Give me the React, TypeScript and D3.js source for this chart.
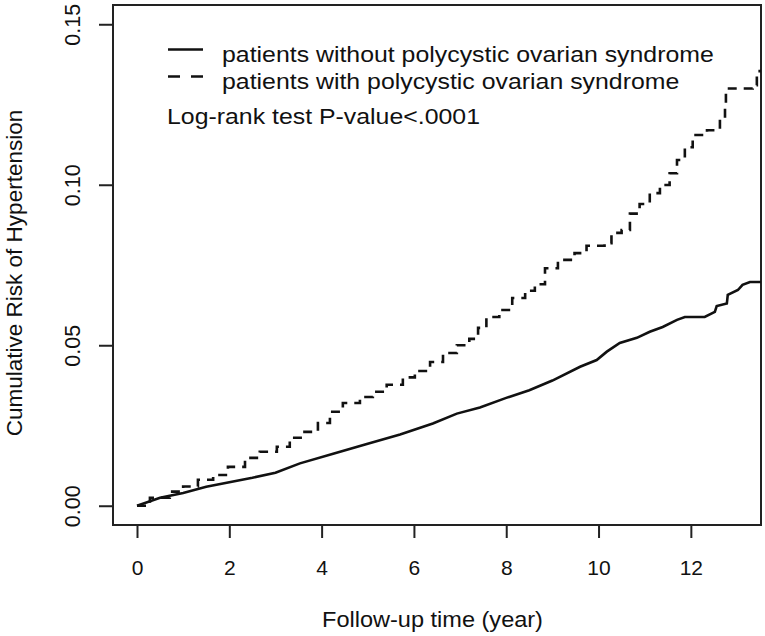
import { useEffect, useRef } from 'react'
import * as d3 from 'd3'

// cumulative risk
const withoutTimes = [0, 0.5, 1, 1.5, 2, 2.5, 3, 3.53, 4.25, 4.98, 5.7, 6.41, 6.93, 7.43, 8, 8.5, 9, 9.6, 9.96, 10.18, 10.46, 10.83, 11.11, 11.39, 11.7, 11.87, 12.3, 12.52, 12.56, 12.78, 12.8, 13.02, 13.12, 13.28, 13.52]
const withoutRisk = [0, 0.0025, 0.004, 0.0059, 0.0073, 0.0087, 0.0103, 0.0132, 0.0162, 0.0192, 0.0222, 0.0256, 0.0287, 0.0306, 0.0336, 0.036, 0.039, 0.0433, 0.0454, 0.048, 0.0507, 0.0523, 0.0542, 0.0557, 0.0579, 0.0588, 0.0588, 0.0604, 0.0622, 0.063, 0.0657, 0.0672, 0.0688, 0.0697, 0.0697]

const withTimes = [0, 0.28, 0.71, 1.0, 1.32, 1.65, 1.97, 2.34, 2.66, 3.03, 3.31, 3.6, 3.92, 4.18, 4.46, 4.83, 5.11, 5.41, 5.76, 6.02, 6.35, 6.63, 6.93, 7.2, 7.39, 7.57, 7.85, 8.13, 8.41, 8.62, 8.84, 9.12, 9.48, 9.74, 10.13, 10.28, 10.5, 10.68, 10.89, 11.11, 11.33, 11.54, 11.7, 11.87, 12.04, 12.35, 12.63, 12.74, 12.76, 13.34, 13.43, 13.52]
const withRisk = [0, 0.0025, 0.0044, 0.006, 0.0081, 0.0096, 0.0121, 0.0149, 0.0168, 0.0184, 0.0212, 0.023, 0.0258, 0.0293, 0.032, 0.0339, 0.0355, 0.0377, 0.04, 0.042, 0.0448, 0.0476, 0.05, 0.052, 0.0554, 0.0588, 0.061, 0.0647, 0.067, 0.069, 0.074, 0.0766, 0.0787, 0.081, 0.0818, 0.085, 0.0859, 0.091, 0.094, 0.0974, 0.0999, 0.1036, 0.1077, 0.1117, 0.1155, 0.117, 0.1207, 0.1242, 0.13, 0.131, 0.1354, 0.1354]

const xTicks = [0, 2, 4, 6, 8, 10, 12]
const yTicks = [0, 0.05, 0.1, 0.15]
const legendLabels = ['patients without polycystic ovarian syndrome', 'patients with polycystic ovarian syndrome']
const pValueText = 'Log-rank test P-value<.0001'

const W = 765
const H = 636
const FONT = 'Liberation Sans, Arial, sans-serif'
const INK = '#111'

export default function App() {
  const svgRef = useRef<SVGSVGElement>(null)

  useEffect(() => {
    document.body.style.margin = '0'
    if (!svgRef.current) return
    const svg = d3.select(svgRef.current)
    svg.selectAll('*').remove()

    const box = { left: 113, right: 761, top: 5, bottom: 525 }

    const x = d3.scaleLinear().domain([-0.52, 13.52]).range([box.left, box.right])
    const y = d3.scaleLinear().domain([-0.006, 0.156]).range([box.bottom, box.top])

    svg.append('defs').append('clipPath').attr('id', 'plot-clip')
      .append('rect')
      .attr('x', box.left).attr('y', box.top)
      .attr('width', box.right - box.left).attr('height', box.bottom - box.top)

    // x axis
    const gx = svg.append('g')
      .attr('transform', `translate(0,${box.bottom})`)
      .call(d3.axisBottom(x).tickValues(xTicks).tickSize(13).tickPadding(22).tickFormat(d => String(d)))
    gx.select('.domain').remove()
    gx.selectAll('line').attr('stroke', '#222').attr('stroke-width', 2)
    gx.selectAll('text').attr('fill', INK).attr('font-size', 21).attr('font-family', FONT)

    // y axis, labels turned like R's las=0
    const gy = svg.append('g')
      .attr('transform', `translate(${box.left},0)`)
      .call(d3.axisLeft(y).tickValues(yTicks).tickSize(14).tickFormat(d3.format('.2f')))
    gy.select('.domain').remove()
    gy.selectAll('line').attr('stroke', '#222').attr('stroke-width', 2)
    gy.selectAll('.tick text')
      .attr('x', null).attr('dy', null)
      .attr('transform', 'translate(-33,0) rotate(-90)')
      .attr('text-anchor', 'middle')
      .attr('fill', INK).attr('font-size', 21.5).attr('font-family', FONT)

    // box
    svg.append('rect')
      .attr('x', box.left).attr('y', box.top)
      .attr('width', box.right - box.left).attr('height', box.bottom - box.top)
      .attr('fill', 'none').attr('stroke', '#222').attr('stroke-width', 2)

    const plot = svg.append('g').attr('clip-path', 'url(#plot-clip)')

    const solid = withoutTimes.map((t, i) => [t, withoutRisk[i]] as [number, number])
    const dashed = withTimes.map((t, i) => [t, withRisk[i]] as [number, number])

    plot.append('path')
      .datum(solid)
      .attr('fill', 'none').attr('stroke', INK).attr('stroke-width', 2.6)
      .attr('d', d3.line().x(d => x(d[0])).y(d => y(d[1])))

    plot.append('path')
      .datum(dashed)
      .attr('fill', 'none').attr('stroke', INK).attr('stroke-width', 2.6)
      .attr('stroke-dasharray', '9,7')
      .attr('d', d3.line().x(d => x(d[0])).y(d => y(d[1])).curve(d3.curveStepAfter))

    // legend (text drawn slightly wide, as in the source image)
    const legend = svg.append('g')
    legendLabels.forEach((label, i) => {
      const ly = 49.5 + i * 27
      legend.append('line')
        .attr('x1', 168).attr('x2', 203).attr('y1', ly).attr('y2', ly)
        .attr('stroke', INK).attr('stroke-width', 2.4)
        .attr('stroke-dasharray', i === 1 ? '12,11' : null)
      legend.append('text')
        .attr('transform', `translate(222,${ly + 12}) scale(1.13,1)`)
        .attr('font-size', 22).attr('font-family', FONT).attr('fill', INK)
        .text(label)
    })
    legend.append('text')
      .attr('transform', 'translate(167,124) scale(1.13,1)')
      .attr('font-size', 22).attr('font-family', FONT).attr('fill', INK)
      .text(pValueText)

    // axis titles
    svg.append('text')
      .attr('transform', `translate(${(322 + 543) / 2},627) scale(1.07,1)`)
      .attr('text-anchor', 'middle')
      .attr('font-size', 22).attr('font-family', FONT).attr('fill', INK)
      .text('Follow-up time (year)')

    svg.append('text')
      .attr('transform', `translate(22,${(box.top + box.bottom) / 2 + 8}) rotate(-90)`)
      .attr('text-anchor', 'middle')
      .attr('font-size', 22.5).attr('font-family', FONT).attr('fill', INK)
      .text('Cumulative Risk of Hypertension')
  }, [])

  return <svg ref={svgRef} width={W} height={H} style={{ display: 'block', background: '#fff' }} />
}
